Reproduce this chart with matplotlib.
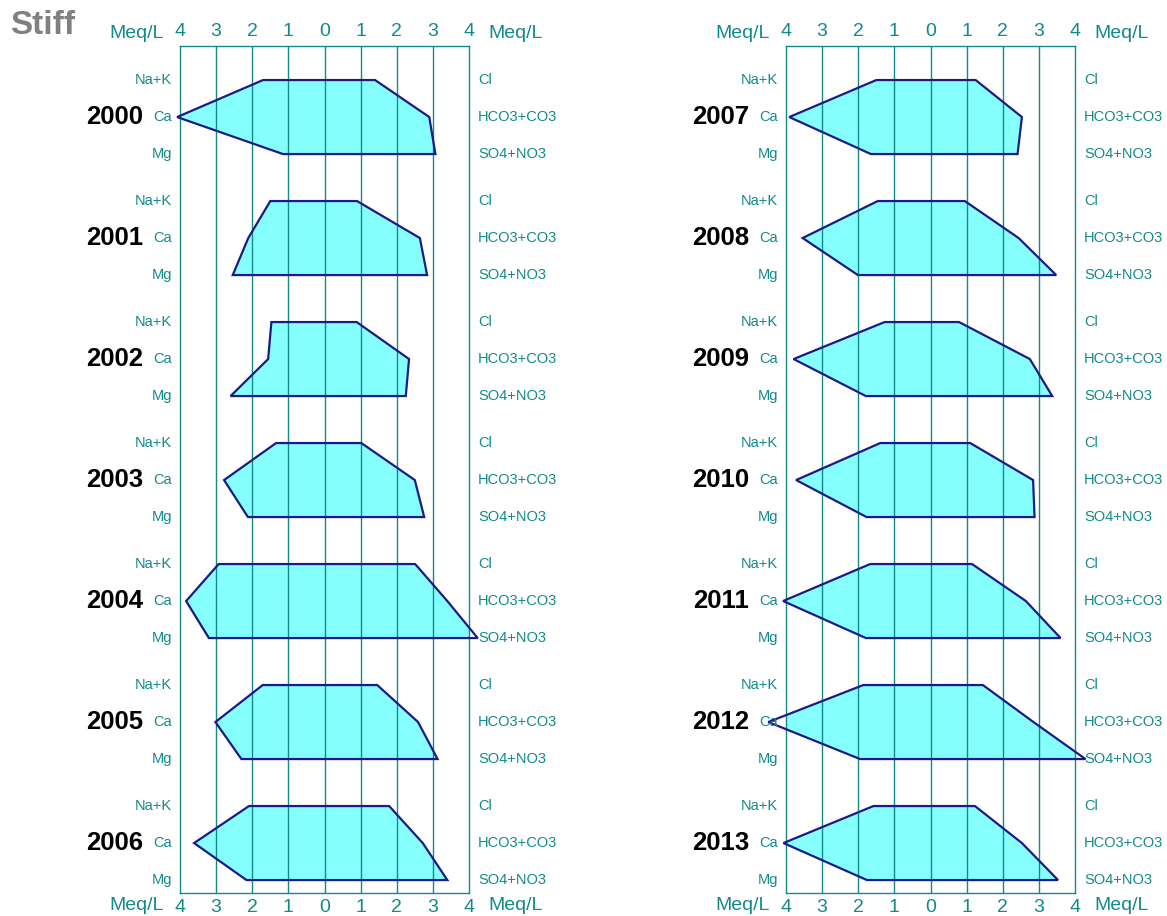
import matplotlib
matplotlib.use('Agg')
import matplotlib.pyplot as plt

plt.rcParams['font.family'] = ['Liberation Sans', 'DejaVu Sans']

# Stiff diagram values (meq/L)
years_left = ['2000', '2001', '2002', '2003', '2004', '2005', '2006']
years_right = ['2007', '2008', '2009', '2010', '2011', '2012', '2013']

# cations: Na+K, Ca, Mg  /  anions: Cl, HCO3+CO3, SO4+NO3
nak_left = [1.70, 1.50, 1.47, 1.34, 2.93, 1.71, 2.09]
ca_left = [4.08, 2.11, 1.56, 2.78, 3.83, 3.02, 3.61]
mg_left = [1.15, 2.54, 2.60, 2.12, 3.20, 2.30, 2.16]
cl_left = [1.40, 0.90, 0.89, 1.02, 2.51, 1.46, 1.79]
hco3_left = [2.90, 2.64, 2.34, 2.50, 3.40, 2.59, 2.72]
so4_left = [3.07, 2.84, 2.25, 2.76, 4.24, 3.13, 3.40]

nak_right = [1.50, 1.46, 1.27, 1.39, 1.67, 1.86, 1.58]
ca_right = [3.91, 3.54, 3.79, 3.72, 4.08, 4.49, 4.07]
mg_right = [1.65, 2.01, 1.79, 1.77, 1.79, 1.95, 1.76]
cl_right = [1.25, 0.95, 0.79, 1.10, 1.15, 1.45, 1.23]
hco3_right = [2.53, 2.44, 2.75, 2.84, 2.64, 2.85, 2.53]
so4_right = [2.41, 3.48, 3.37, 2.88, 3.60, 4.29, 3.53]

cation_names = ['Na+K', 'Ca', 'Mg']
anion_names = ['Cl', 'HCO3+CO3', 'SO4+NO3']
ticks = [-4, -3, -2, -1, 0, 1, 2, 3, 4]

teal = '#128a8a'
fill = '#80ffff'
edge = '#1a1a88'
step = 3.27  # vertical distance between diagrams (row units)

fig = plt.figure(figsize=(11.67, 9.16), dpi=100)


def draw_panel(ax, years, nak, ca, mg, cl, hco3, so4):
    ax.set_xlim(-4, 4)
    ax.set_ylim(21.97, -0.92)
    ax.set_yticks([])
    ax.set_xticks(ticks)
    ax.set_xticklabels([str(abs(t)) for t in ticks])
    ax.tick_params(axis='x', top=True, labeltop=True, bottom=True, labelbottom=True,
                   length=0, pad=4.0, labelsize=14, labelcolor=teal)
    for t in ticks[1:-1]:
        ax.axvline(t, color=teal, lw=1.0, zorder=1)
    for s in ax.spines.values():
        s.set_color(teal)
        s.set_linewidth(1.0)
    for i, yr in enumerate(years):
        y0 = i * step
        xs = [-nak[i], -ca[i], -mg[i], so4[i], hco3[i], cl[i]]
        ys = [y0, y0 + 1, y0 + 2, y0 + 2, y0 + 1, y0]
        ax.fill(xs, ys, facecolor=fill, edgecolor='none', alpha=0.95, zorder=0.5)
        ax.fill(xs, ys, facecolor='none', edgecolor=edge, lw=1.6, zorder=3,
                joinstyle='miter', clip_on=False)
        for k in range(3):
            ax.text(-4.22, y0 + k, cation_names[k], ha='right', va='center',
                    fontsize=10.5, color=teal, clip_on=False)
            ax.text(4.25, y0 + k, anion_names[k], ha='left', va='center',
                    fontsize=10.5, color=teal, clip_on=False)
        ax.text(-5.02, y0 + 1, yr, ha='right', va='center', fontsize=18.5,
                fontweight='bold', color='black', clip_on=False)
    for yy in (-1.27, 22.32):
        ax.text(-4.45, yy, 'Meq/L', ha='right', va='center', fontsize=14,
                color=teal, clip_on=False)
        ax.text(4.55, yy, 'Meq/L', ha='left', va='center', fontsize=14,
                color=teal, clip_on=False)


ax1 = fig.add_axes([180 / 1167, 1 - 893 / 916, 289 / 1167, 847 / 916])
draw_panel(ax1, years_left, nak_left, ca_left, mg_left, cl_left, hco3_left, so4_left)

ax2 = fig.add_axes([786 / 1167, 1 - 893 / 916, 289 / 1167, 847 / 916])
draw_panel(ax2, years_right, nak_right, ca_right, mg_right, cl_right, hco3_right, so4_right)

fig.text(10 / 1167, 1 - 25 / 916, 'Stiff', ha='left', va='center', fontsize=24,
         fontweight='bold', color='#808080')

fig.savefig('out.png', dpi=100)
